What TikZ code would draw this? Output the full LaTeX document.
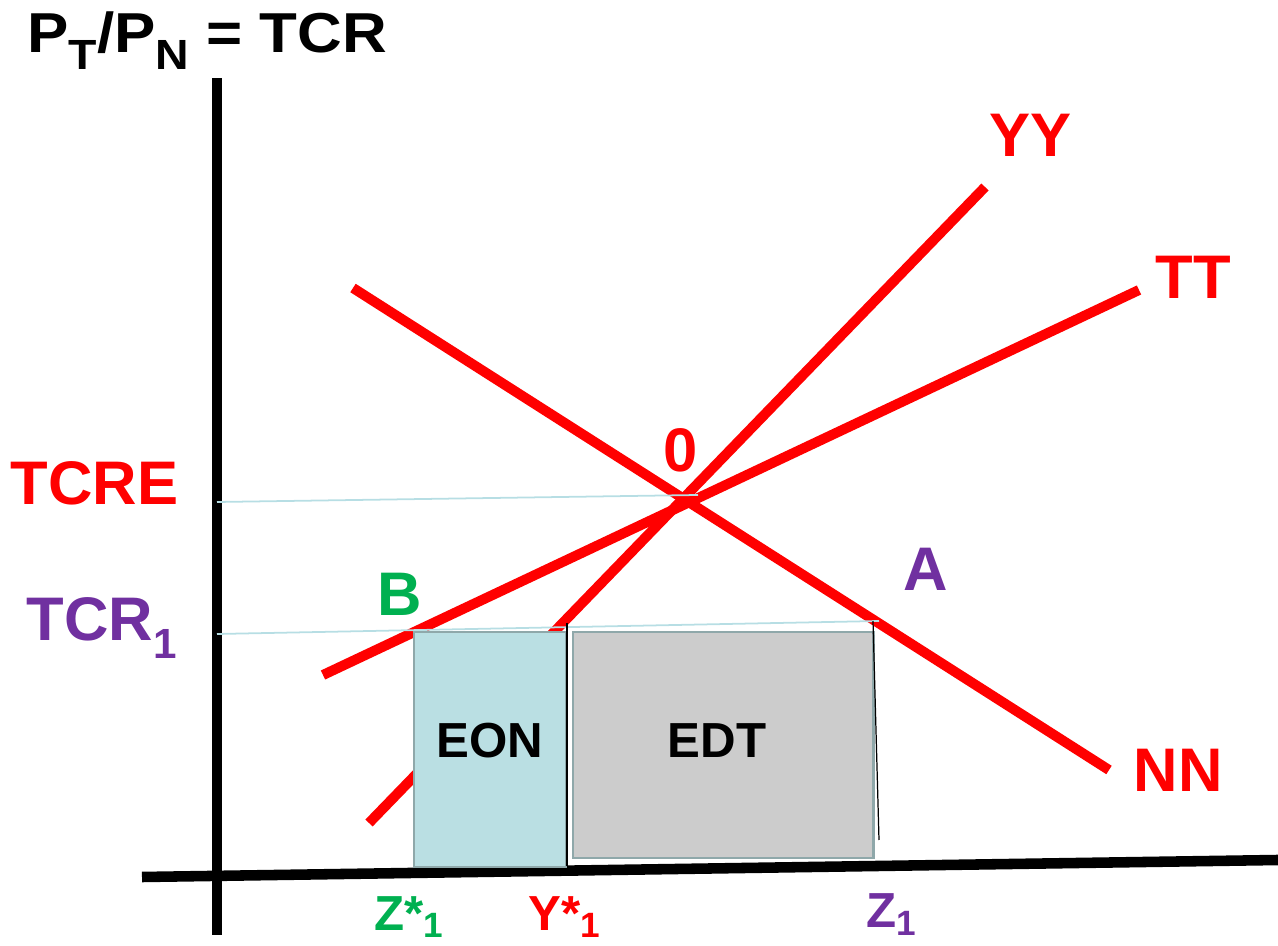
\documentclass[tikz,border=0pt]{standalone}
\usepackage{fontspec}
\setmainfont{Liberation Sans}
\definecolor{curvered}{RGB}{255,0,0}
\definecolor{ptgreen}{RGB}{0,176,80}
\definecolor{ptpurple}{RGB}{112,48,160}
\definecolor{guideblue}{RGB}{183,222,228}
\definecolor{eonfill}{RGB}{186,223,227}
\definecolor{edtfill}{RGB}{204,204,204}
\definecolor{boxedge}{RGB}{143,168,170}
\newcommand{\lowsub}[3][12]{\raisebox{-#2em}{\fontsize{#1}{#1}\selectfont #3}}
\tikzset{
  curve/.style={draw=curvered, line width=2.85pt},
  axis/.style={draw=black, line width=3pt},
  guide/.style={draw=guideblue, line width=0.5pt},
  drop/.style={draw=black, line width=0.35pt},
  area/.style={draw=boxedge, line width=0.85pt},
  lbl/.style={font=\fontsize{17.5}{20}\selectfont\bfseries, anchor=base west, inner sep=0pt},
  qlbl/.style={font=\fontsize{14}{16}\selectfont\bfseries, anchor=base west, inner sep=0pt},
}
\begin{document}
\begin{tikzpicture}[x=0.01cm, y=-0.01cm]
  \useasboundingbox (0,0) rectangle (1278,946);
  % axes
  \coordinate (ytop) at (217,78);
  \coordinate (ybot) at (217,935);
  \coordinate (xleft) at (142,877);
  \coordinate (xright) at (1278,860);
  \draw[axis] (ybot) -- (ytop);
  \draw[axis] (xleft) -- (xright);
  % curves
  \coordinate (nnstart) at (353,288);
  \coordinate (nnend) at (1109,770);
  \coordinate (ttstart) at (323,675);
  \coordinate (ttend) at (1139,290);
  \coordinate (yystart) at (369,823);
  \coordinate (yyend) at (985,187);
  \draw[curve] (nnstart) -- (nnend);
  \draw[curve] (ttstart) -- (ttend);
  \draw[curve] (yystart) -- (yyend);
  % areas
  \coordinate (eontl) at (414,632);
  \coordinate (eonbr) at (566,867);
  \coordinate (edttl) at (573,632);
  \coordinate (edtbr) at (873,858);
  \draw[area, fill=eonfill] (eontl) rectangle (eonbr);
  \draw[area, fill=edtfill] (edttl) rectangle (edtbr);
  % guides
  \coordinate (tcreleft) at (217,502);
  \coordinate (eq) at (698,495);
  \coordinate (tcrleft) at (217,634);
  \coordinate (aright) at (879,621);
  \draw[guide] (tcreleft) -- (eq);
  \draw[guide] (tcrleft) -- (aright);
  \coordinate (ytop1) at (567,623);
  \coordinate (ybot1) at (567,866);
  \coordinate (atop) at (873,621);
  \coordinate (abot) at (879,840);
  \draw[drop] (ytop1) -- (ybot1);
  \draw[drop] (atop) -- (abot);
  % labels
  \node[lbl, font=\fontsize{16}{18}\selectfont\bfseries] (title) at (27,53) {\scalebox{1.1}[1]{P\lowsub[12]{0.3}{T}/P\lowsub[12]{0.3}{N} = TCR}};
  \node[lbl, text=curvered] (yy) at (989,157) {YY};
  \node[lbl, text=curvered] (tt) at (1155,299) {TT};
  \node[lbl, text=curvered] (nn) at (1133,792) {NN};
  \node[lbl, text=curvered] (zero) at (663,472) {0};
  \node[lbl, text=curvered] (tcre) at (10,505) {TCRE};
  \node[lbl, text=ptpurple] (tcrone) at (26,641) {TCR\lowsub{0.28}{1}};
  \node[lbl, text=ptgreen] (bpt) at (377,616) {B};
  \node[lbl, text=ptpurple] (apt) at (903,591) {A};
  \node[qlbl, anchor=base] (eon) at (490,758) {EON};
  \node[qlbl, anchor=base] (edt) at (717,758) {EDT};
  \node[qlbl, text=ptgreen] (zstar) at (374,930) {Z*\lowsub[10]{0.15}{1}};
  \node[qlbl, text=curvered] (ystar) at (528,930) {Y*\lowsub[10]{0.15}{1}};
  \node[qlbl, text=ptpurple] (zone) at (866,928) {Z\lowsub[10]{0.15}{1}};
\end{tikzpicture}
\end{document}
